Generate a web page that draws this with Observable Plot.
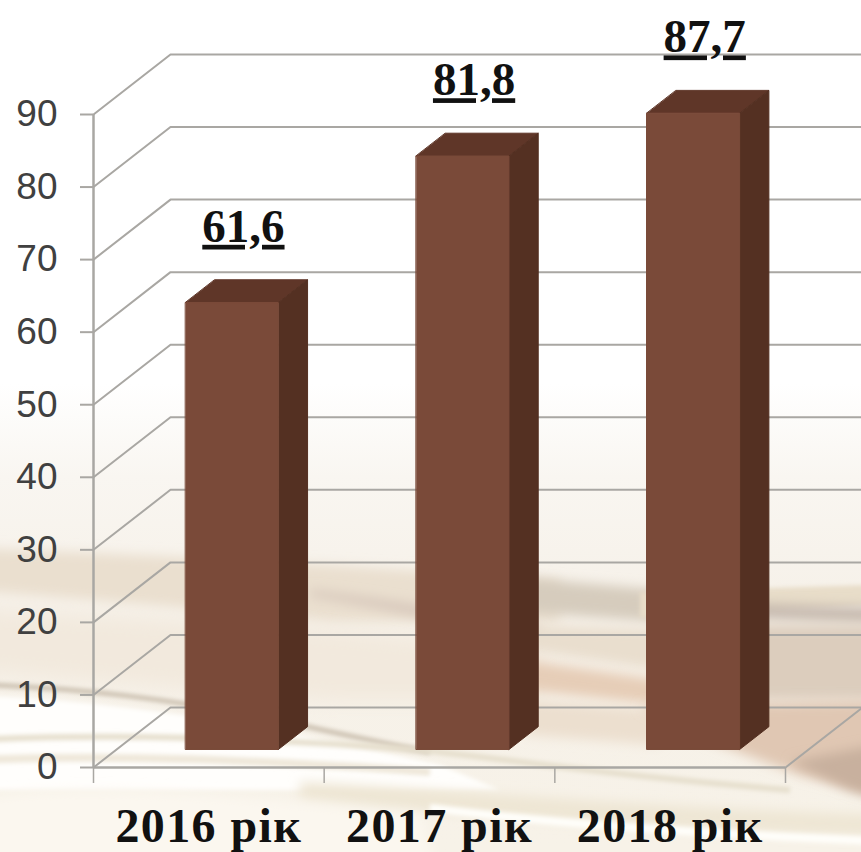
<!DOCTYPE html>
<html><head><meta charset="utf-8">
<script src="https://cdn.jsdelivr.net/npm/d3@7"></script>
<script src="https://cdn.jsdelivr.net/npm/@observablehq/plot@0.6"></script>
<style>
html,body{margin:0;padding:0;background:#fff;overflow:hidden}
#wrap{position:relative;width:861px;height:852px;overflow:hidden}
#bg{position:absolute;left:0;top:0}
#chart{position:absolute;left:0;top:0}
#chart svg{background:transparent}
.vals text{text-decoration:underline;text-decoration-thickness:2px}
</style></head><body>
<div id="wrap">
<svg id="bg" width="861" height="852" viewBox="0 0 861 852">
<defs>
<linearGradient id="base" x1="0" y1="0" x2="0" y2="1">
<stop offset="0" stop-color="#fff"/><stop offset=".45" stop-color="#fff"/>
<stop offset=".56" stop-color="#f9f6f1"/><stop offset=".7" stop-color="#f6f1e9"/><stop offset="1" stop-color="#f7f2e8"/>
</linearGradient>
<filter id="b12" filterUnits="userSpaceOnUse" x="-100" y="300" width="1100" height="700"><feGaussianBlur stdDeviation="10"/></filter>
<filter id="b6" filterUnits="userSpaceOnUse" x="-100" y="300" width="1100" height="700"><feGaussianBlur stdDeviation="6"/></filter>
<filter id="b2" filterUnits="userSpaceOnUse" x="-100" y="300" width="1100" height="700"><feGaussianBlur stdDeviation="2"/></filter>
</defs>
<rect width="861" height="852" fill="url(#base)"/>
<path d="M-30,548 C100,552 220,560 330,565 L560,580 L560,622 L330,622 C220,610 100,600 -30,590Z" fill="#eadfcf" filter="url(#b6)"/>
<path d="M-30,610 L330,630 L540,650 L540,700 L330,700 L-30,670Z" fill="#f2e9dd" filter="url(#b12)"/>
<path d="M310,596 C380,608 440,620 540,640 L540,628 C450,610 380,598 310,590Z" fill="#d6c6ba" filter="url(#b6)"/>
<path d="M525,578 L660,590 V622 L525,612Z" fill="#d6ccbd" filter="url(#b6)"/>
<path d="M525,625 L660,630 V670 L525,650Z" fill="#e9dece" filter="url(#b6)"/>
<path d="M525,660 L660,680 V705 L525,690Z" fill="#e6cdb7" filter="url(#b6)"/>
<path d="M525,700 L660,710 V745 L525,735Z" fill="#ecdfcf" filter="url(#b6)"/>
<path d="M640,592 L900,584 V604 L640,618Z" fill="#e8ddc9" filter="url(#b2)"/>
<path d="M700,602 L900,608 V625 L740,618Z" fill="#c6b9ae" filter="url(#b6)"/>
<path d="M700,625 L900,625 V700 L700,700Z" fill="#dccdbd" filter="url(#b6)"/>
<path d="M640,706 L900,700 V800 L800,775 L680,730Z" fill="#e0c7b3" filter="url(#b6)"/>
<path d="M790,762 L900,740 V805 L850,790Z" fill="#c8b09e" filter="url(#b6)"/>
<path d="M-30,695 C120,700 260,725 440,765 L500,790 L-30,790Z" fill="#fffefc" filter="url(#b2)"/>
<path d="M-30,684 C80,688 170,698 300,725 C350,736 390,745 430,752" fill="none" stroke="#cdc2b2" stroke-width="5" filter="url(#b2)"/>
<path d="M-30,740 C90,734 240,736 420,750 C500,758 600,775 790,790" fill="none" stroke="#e6dfcd" stroke-width="6" filter="url(#b2)"/>
<path d="M-30,760 C120,754 260,760 430,772" fill="none" stroke="#efe8da" stroke-width="8" filter="url(#b2)"/>
<path d="M300,782 C460,790 680,810 900,815 L900,836 C680,832 460,815 300,800Z" fill="#eee6d4" filter="url(#b6)"/>
<path d="M-30,800 C60,782 200,790 420,815 L440,880 H-30Z" fill="#fbf7ef" filter="url(#b6)"/>
<path d="M430,808 C560,825 720,835 900,842" fill="none" stroke="#fffefa" stroke-width="8" filter="url(#b2)"/>
</svg>
<div id="chart"></div>
</div>
<script>
const categories = ["2016 рік", "2017 рік", "2018 рік"];
const values = [61.6, 81.8, 87.7];
const valueLabels = ["61,6", "81,8", "87,7"];
const yTicks = [0, 10, 20, 30, 40, 50, 60, 70, 80, 90];
const xTicks = [0, 1, 2, 3];

// oblique projection of the 3D box in data units
const depthX = 77 / 230.67, depthY = 60 / 7.255;
const project = (x, v, d) => ({px: x + d * depthX, py: v + d * depthY});
const barW = 0.402, d1 = 0.3, d2 = 0.68;
const barPoly = (i, v, corners) => corners.map(([side, val, d]) =>
  ({id: i, ...project(i + 0.5 + (side - 0.5) * barW, val * v, d)}));
const front = values.flatMap((v, i) => barPoly(i, v, [[0,0,d1],[1,0,d1],[1,1,d1],[0,1,d1]]));
const side  = values.flatMap((v, i) => barPoly(i, v, [[1,0,d1],[1,0,d2],[1,1,d2],[1,1,d1]]));
const top_  = values.flatMap((v, i) => barPoly(i, v, [[0,1,d1],[1,1,d1],[1,1,d2],[0,1,d2]]));

const gridPath = yTicks.flatMap(t => [
  {t, ...project(0, t, 0)}, {t, ...project(0, t, 1)}, {t, ...project(3, t, 1)}
]);
const floorRight = [project(3, 0, 0), project(3, 0, 1)];
const grey = "#a9a7a3";
const poly = (rows, fill) => Plot.line(rows, {x: "px", y: "py", z: "id", fill, stroke: fill, strokeWidth: 1, curve: "linear-closed"});
const serif = "'Liberation Serif', serif";

const plot = Plot.plot({
  width: 861, height: 852,
  marginLeft: 93, marginRight: 76, marginTop: 114, marginBottom: 85,
  x: {domain: [0, 3]},
  y: {domain: [0, 90]},
  style: {background: "transparent", fontFamily: "'Liberation Sans', Arial, sans-serif"},
  marks: [
    Plot.line(gridPath, {x: "px", y: "py", z: "t", stroke: grey, strokeWidth: 2}),
    Plot.line(floorRight, {x: "px", y: "py", stroke: grey, strokeWidth: 2}),
    Plot.ruleY([0], {stroke: grey, strokeWidth: 2.5}),
    Plot.ruleX([0], {y1: 0, y2: 90, stroke: grey, strokeWidth: 2.5}),
    Plot.axisX({ticks: xTicks, tickSize: 16, tickFormat: () => "", stroke: grey, strokeWidth: 1.5, label: null}),
    Plot.axisY({ticks: yTicks, tickSize: 13, tickPadding: 23, stroke: grey, strokeWidth: 2, fontSize: 37, fill: "#404040", label: null, textStroke: "none"}),
    poly(top_, "#5f3628"),
    poly(side, "#543022"),
    poly(front, "#7a4a39"),
    Plot.text(categories, {
      x: (d, i) => i + 0.5, y: () => 0, text: d => d, dy: 59,
      fontFamily: serif, fontWeight: "bold", fontSize: 48, fill: "#111",
      className: "cats"
    }),
    Plot.text(valueLabels, {
      x: (d, i) => project(i + 0.5, 0, (d1 + d2) / 2 + 0.05).px,
      y: (d, i) => project(0, values[i], d2).py,
      text: d => d, dx: -7, dy: -53,
      fontFamily: serif, fontWeight: "bold", fontSize: 47, fill: "#111",
      className: "vals"
    })
  ]
});
const s = document.createElement("style");
s.textContent = ".cats text{letter-spacing:1.4px}";
document.head.appendChild(s);
document.getElementById("chart").appendChild(plot);
</script>
</body></html>
